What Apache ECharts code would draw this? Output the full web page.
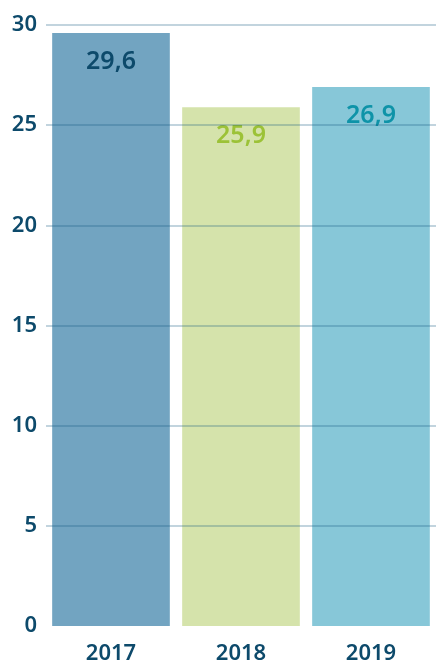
<!DOCTYPE html>
<html>
<head>
<meta charset="utf-8">
<script src="https://cdn.jsdelivr.net/npm/echarts@6/dist/echarts.min.js"></script>
<style>
  html, body { margin: 0; padding: 0; background: #fff; }
  #chart { width: 436px; height: 665px; }
</style>
</head>
<body>
<div id="chart"></div>
<script>
// data
var years = ['2017', '2018', '2019'];
var values = [29.6, 25.9, 26.9];
var barColors = ['#72a4c1', '#d5e3ab', '#87c7d8'];
var labelColors = ['#0d4a6b', '#9cc237', '#0e93a8'];

var chart = echarts.init(document.getElementById('chart'));

chart.setOption({
  animation: false,
  grid: { left: 46, right: -4, top: 25, bottom: 39 },
  xAxis: {
    type: 'category',
    data: years,
    axisLine: { show: false },
    axisTick: { show: false },
    axisLabel: {
      color: '#0d4a6b',
      fontSize: 22,
      fontWeight: 600,
      fontFamily: 'Noto Sans',
      margin: 17
    }
  },
  yAxis: {
    type: 'value',
    min: 0,
    max: 30,
    interval: 5,
    z: 3,
    axisLine: { show: false },
    axisTick: { show: false },
    axisLabel: {
      color: '#0d4a6b',
      fontSize: 22,
      fontWeight: 600,
      fontFamily: 'Noto Sans',
      margin: 9
    },
    splitLine: {
      showMinLine: false,
      lineStyle: { color: 'rgba(20, 90, 130, 0.35)', width: 1.5 }
    }
  },
  series: [
    {
      type: 'bar',
      barCategoryGap: '9.5%',
      data: values.map(function (v, i) {
        return {
          value: v,
          itemStyle: { color: barColors[i] },
          label: { color: labelColors[i] }
        };
      }),
      label: {
        show: true,
        position: 'insideTop',
        distance: 16,
        fontSize: 25,
        fontWeight: 600,
        fontFamily: 'Noto Sans',
        formatter: function (p) {
          return p.value.toFixed(1).replace('.', ',');
        }
      }
    }
  ]
});
</script>
</body>
</html>
